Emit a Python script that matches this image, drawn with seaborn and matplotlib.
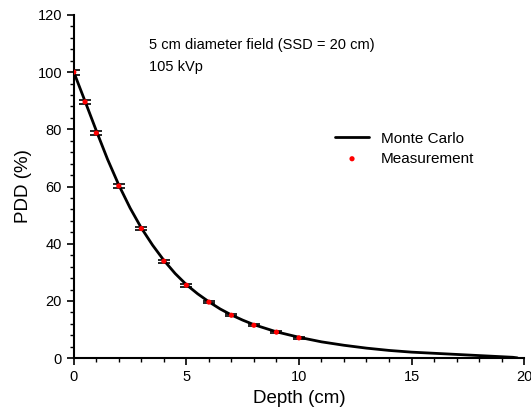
import seaborn as sns
import matplotlib.pyplot as plt
import pandas as pd
from matplotlib.ticker import MultipleLocator

# Monte Carlo PDD curve
mc_depth = [0, 0.5, 1, 1.5, 2, 2.5, 3, 3.5, 4, 4.5, 5, 5.5, 6, 6.5, 7, 7.5, 8, 9, 10,
            11, 12, 13, 14, 15, 16, 17, 18, 19, 19.5, 19.7]
mc_pdd = [100, 89.8, 79.5, 69.5, 60.5, 52.5, 45.5, 39.5, 34.2, 29.6, 25.7, 22.5, 19.7, 17.2,
          15.1, 13.3, 11.7, 9.2, 7.3, 5.7, 4.5, 3.5, 2.7, 2.1, 1.7, 1.3, 0.9, 0.5, 0.3, 0.1]

# Measured points
meas_depth = [0, 0.5, 1, 2, 3, 4, 5, 6, 7, 8, 9, 10]
meas_pdd = [100, 89.6, 78.7, 60.2, 45.3, 33.9, 25.5, 19.6, 15.0, 11.5, 9.1, 7.1]
meas_err = [0.9, 0.8, 0.8, 0.8, 0.6, 0.5, 0.5, 0.4, 0.4, 0.3, 0.3, 0.3]

mc = pd.DataFrame({'depth': mc_depth, 'pdd': mc_pdd})
meas = pd.DataFrame({'depth': meas_depth, 'pdd': meas_pdd, 'err': meas_err})

sns.set_style("ticks", {'axes.edgecolor': 'black', 'xtick.color': 'black',
                        'ytick.color': 'black', 'text.color': 'black',
                        'axes.labelcolor': 'black'})
plt.rcParams['font.family'] = ['Liberation Sans', 'DejaVu Sans']

fig = plt.figure(figsize=(5.31, 4.15), dpi=100)
ax = fig.add_axes([0.139, 0.137, 0.848, 0.827])

sns.lineplot(data=mc, x='depth', y='pdd', color='black', linewidth=2, ax=ax,
             label='Monte Carlo')
ax.errorbar(meas['depth'], meas['pdd'], yerr=meas['err'], fmt='none', ecolor='black',
            elinewidth=0.8, capsize=4.5, capthick=1.2, zorder=3)
sns.scatterplot(data=meas, x='depth', y='pdd', color='red', s=14, edgecolor='none',
                ax=ax, label='Measurement', zorder=4)

ax.set_xlim(0, 20)
ax.set_ylim(0, 120)
ax.xaxis.set_major_locator(MultipleLocator(5))
ax.xaxis.set_minor_locator(MultipleLocator(1))
ax.yaxis.set_major_locator(MultipleLocator(20))
ax.yaxis.set_minor_locator(MultipleLocator(4))
ax.tick_params(which='major', length=5, width=1.2, labelsize=10.5)
ax.tick_params(which='minor', length=3, width=1)
for s in ['left', 'bottom']:
    ax.spines[s].set_linewidth(1.5)
sns.despine(ax=ax)

ax.set_xlabel('Depth (cm)', fontsize=13.5)
ax.set_ylabel('PDD (%)', fontsize=13.5)

ax.text(3.35, 109.6, '5 cm diameter field (SSD = 20 cm)', fontsize=10.5, va='center')
ax.text(3.35, 101.8, '105 kVp', fontsize=10.5, va='center')

ax.legend(loc='upper left', bbox_to_anchor=(0.55, 0.70), frameon=False, fontsize=11,
          handlelength=2.2, labelspacing=0.4)

plt.savefig('out.png', dpi=100)
